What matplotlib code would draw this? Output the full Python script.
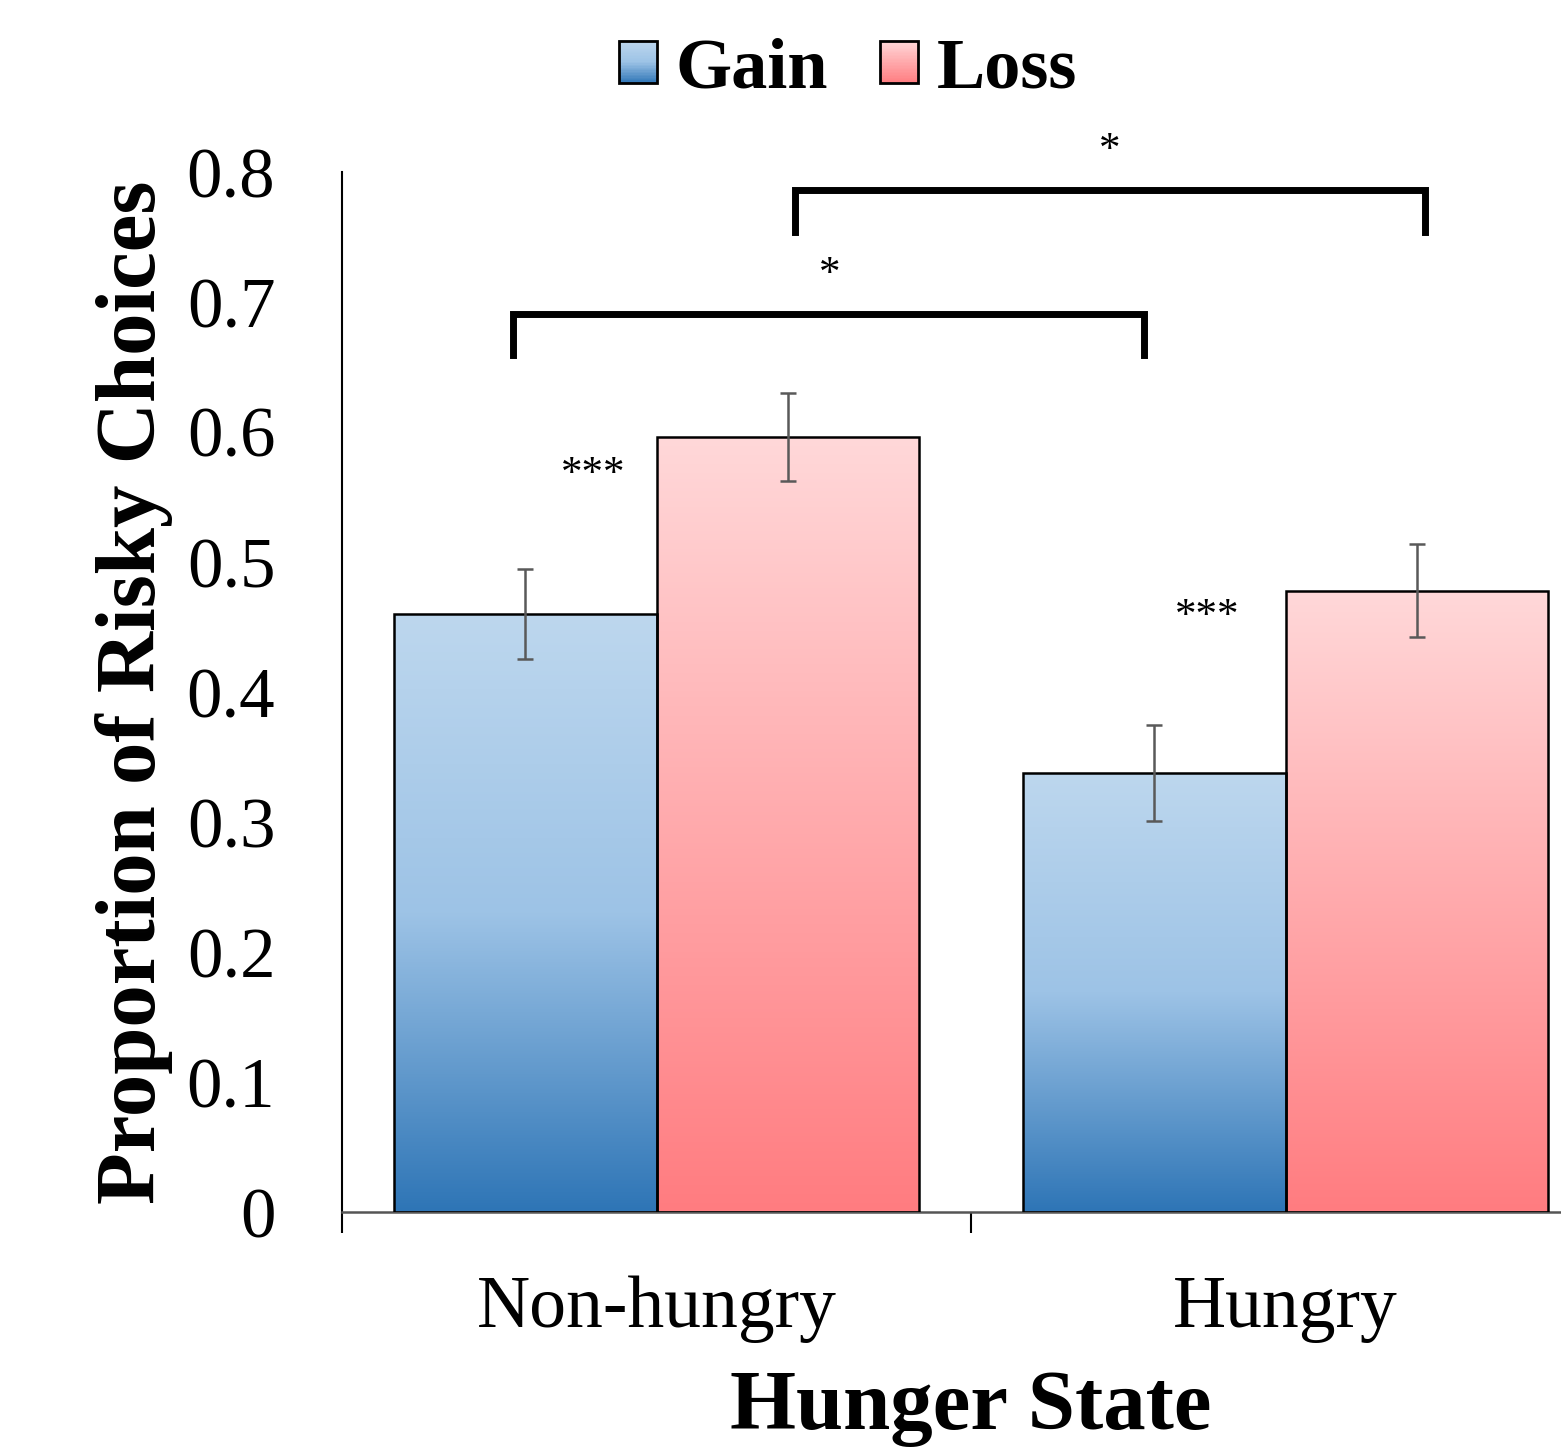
import numpy as np
import matplotlib
matplotlib.use('Agg')
import matplotlib.pyplot as plt
from matplotlib.colors import LinearSegmentedColormap
from matplotlib.patches import Rectangle
from matplotlib.legend_handler import HandlerBase

plt.rcParams['font.family'] = ['Liberation Serif', 'DejaVu Serif']

# data
states = ['Non-hungry', 'Hungry']
gain = [0.460, 0.338]
loss = [0.596, 0.478]
gain_err = [0.035, 0.037]
loss_err = [0.034, 0.036]
stars_within = ['***', '***']
stars_within_x = [-0.10, 0.875]
stars_within_y = [0.567, 0.458]
# brackets: (x_left, x_right, y_top, y_leg_end, label, label_x, label_y)
brackets = [
    (-0.228, 0.775, 0.691, 0.659, '*', 0.276, 0.721),
    (0.220, 1.222, 0.786, 0.754, '*', 0.721, 0.816),
]

gain_cmap = LinearSegmentedColormap.from_list(
    'gain', [(0.0, '#2e75b6'), (0.5, '#9dc3e6'), (1.0, '#bdd7ee')])
loss_cmap = LinearSegmentedColormap.from_list(
    'loss', [(0.0, '#ff7c80'), (1.0, '#ffd8d9')])


class GradientHandler(HandlerBase):
    def __init__(self, cmap):
        super().__init__()
        self.cmap = cmap

    def create_artists(self, legend, orig_handle, xdescent, ydescent,
                       width, height, fontsize, trans):
        arts = []
        n = 30
        for i in range(n):
            r = Rectangle((-xdescent, -ydescent + height * i / n), width, height / n + 0.3,
                          facecolor=self.cmap((i + 0.5) / n), edgecolor='none',
                          transform=trans)
            arts.append(r)
        arts.append(Rectangle((-xdescent, -ydescent), width, height, facecolor='none',
                              edgecolor='black', linewidth=2.0, transform=trans))
        return arts


fig = plt.figure(figsize=(15.61, 14.5), dpi=100)
ax = fig.add_axes([342 / 1561, 238 / 1450, 1258 / 1561, 1040 / 1450])

x = np.arange(len(states))
w = 0.418
gain_bars = ax.bar(x - w / 2, gain, w, facecolor='none', edgecolor='black', linewidth=1.8, zorder=3)
loss_bars = ax.bar(x + w / 2, loss, w, facecolor='none', edgecolor='black', linewidth=1.8, zorder=3)

grad = np.linspace(0, 1, 256).reshape(-1, 1)
for bars, cmap in [(gain_bars, gain_cmap), (loss_bars, loss_cmap)]:
    for b in bars:
        x0, y0 = b.get_x(), b.get_y()
        im = ax.imshow(grad, cmap=cmap, origin='lower', aspect='auto',
                       extent=(x0, x0 + b.get_width(), y0, y0 + b.get_height()), zorder=2)
        im.set_clip_path(b)

ax.errorbar(x - w / 2, gain, yerr=gain_err, fmt='none', ecolor='#595959',
            elinewidth=1.8, capsize=5.5, capthick=1.8, zorder=4)
ax.errorbar(x + w / 2, loss, yerr=loss_err, fmt='none', ecolor='#595959',
            elinewidth=1.8, capsize=5.5, capthick=1.8, zorder=4)

for s, sx, sy in zip(stars_within, stars_within_x, stars_within_y):
    ax.text(sx, sy, s, ha='center', va='center', fontsize=31)

for xl, xr, yt, yl, lab, lx, ly in brackets:
    ax.plot([xl, xl, xr, xr], [yl, yt, yt, yl], color='black', linewidth=5,
            solid_joinstyle='miter', clip_on=False, zorder=5)
    ax.text(lx, ly, lab, ha='center', va='center', fontsize=31)

ax.set_xlim(-0.5, 1.5)
ax.set_ylim(0, 0.8)
ax.set_yticks(np.arange(0, 0.81, 0.1))
ax.set_yticklabels(['0'] + ['%.1f' % v for v in np.arange(0.1, 0.81, 0.1)])
ax.tick_params(axis='y', length=0, pad=48, labelsize=51)
ax.set_xticks([-0.5, 0.5, 1.5])
ax.set_xticklabels([])
ax.tick_params(axis='x', which='major', length=15, width=1.5, direction='out')
ax.set_xticks(x, minor=True)
ax.set_xticklabels(states, minor=True)
ax.tick_params(axis='x', which='minor', length=0, pad=46, labelsize=53)

for side in ['top', 'right']:
    ax.spines[side].set_visible(False)
ax.spines['left'].set_linewidth(1.5)
ax.spines['bottom'].set_linewidth(1.8)
ax.spines['bottom'].set_color('#555555')

ax.set_xlabel('Hunger State', fontsize=61, fontweight='bold')
ax.set_ylabel('Proportion of Risky Choices', fontsize=61, fontweight='bold', labelpad=10)
ax.xaxis.set_label_coords(629 / 1258, -0.152)

h_gain = Rectangle((0, 0), 1, 1)
h_loss = Rectangle((0, 0), 1, 1)
fig.legend([h_gain, h_loss], ['Gain', 'Loss'], loc='center', ncol=2,
           bbox_to_anchor=(848 / 1561, 1 - 70 / 1450), frameon=False,
           prop={'weight': 'bold', 'size': 52},
           handler_map={h_gain: GradientHandler(gain_cmap), h_loss: GradientHandler(loss_cmap)},
           handlelength=0.53, handleheight=0.53, handletextpad=0.26, columnspacing=0.72)

plt.savefig('out.png', dpi=100)
